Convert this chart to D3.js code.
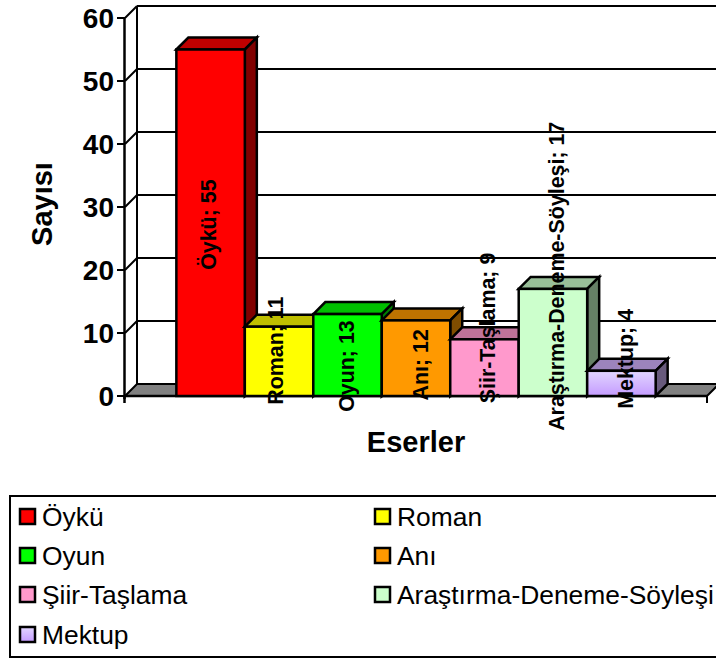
<!DOCTYPE html>
<html><head><meta charset="utf-8">
<script src="https://cdn.jsdelivr.net/npm/d3@7"></script>
<style>html,body{margin:0;padding:0;background:#fff}svg{display:block}text{font-family:"Liberation Sans",Arial,sans-serif;fill:#000}</style>
</head><body><svg id="c" width="716" height="659"></svg>
<script>
const categories = ["Öykü","Roman","Oyun","Anı","Şiir-Taşlama","Araştırma-Deneme-Söyleşi","Mektup"];
const values = [55,11,13,12,9,17,4];
const colors = ["#ff0000","#ffff00","#00ff00","#ff9900","#ff99cc","#ccffcc","url(#mk)"];
const topColors = ["#bf0000","#bfbf00","#00bf00","#bf7300","#bf7399","#99bf99","#9c84bc"];
const sideColors = ["#800000","#808000","#008000","#804d00","#804d66","#668066","#685a7c"];
const labelCenters = [27.2,7.2,4.75,4.95,10.8,19,5.9];
const ticks = [0,10,20,30,40,50,60];

const svg = d3.select("#c");
const defs = svg.append("defs");
const g = defs.append("linearGradient").attr("id","mk").attr("x1",0).attr("y1",0).attr("x2",0).attr("y2",1);
g.append("stop").attr("offset",0).attr("stop-color","#e2d6ff");
g.append("stop").attr("offset",1).attr("stop-color","#c49bff");

const x0=125,x1=707,y0=396,y1=18,d=12;
const labelNudge = [-3,-5,-2,3,2,3,3];
const x = d3.scaleBand().domain(categories).range([x0,x1]).paddingInner(0).paddingOuter(0.75);
const y = d3.scaleLinear().domain([0,60]).range([y0,y1]);
const line=(a,b,c,e,w=2)=>svg.append("line").attr("x1",a).attr("y1",b).attr("x2",c).attr("y2",e).attr("stroke","#000").attr("stroke-width",w);
const poly=(p,f,w=2.5)=>svg.append("polygon").attr("points",p.map(q=>q.join(",")).join(" ")).attr("fill",f).attr("stroke","#000").attr("stroke-width",w).attr("stroke-linejoin","miter");

// back wall gridlines
ticks.forEach(t=>{
  if(t>0) line(x0+d,y(t)-d,725,y(t)-d);
  if(t>0) line(x0,y(t),x0+d,y(t)-d);
});
line(x0+d,y(60)-d,x0+d,y0-d);
// floor
poly([[x0,y0],[x0+d,y0-d],[x1+d,y0-d],[x1,y0]],"#808080",2);
// axes
line(x0-0.5,y(60),x0-0.5,y0+3,2.5);
ticks.forEach(t=>line(x0-8,y(t),x0,y(t),2));
line(x0,y0,x1,y0,2.5);
line(x1,y0,x1,y0+7,2);
line(x0-0.5,y0,x0-0.5,y0+7,2.5);

// bars
categories.forEach((c,i)=>{
  const l=x(c),r=l+x.bandwidth(),t=y(values[i]);
  poly([[l,t],[l+d,t-d],[r+d,t-d],[r,t]],topColors[i]);
  poly([[r,t],[r+d,t-d],[r+d,y0-d],[r,y0]],sideColors[i]);
  svg.append("rect").attr("x",l).attr("y",t).attr("width",x.bandwidth()).attr("height",y0-t).attr("fill",colors[i]).attr("stroke","#000").attr("stroke-width",2.5);
});
// tick labels
ticks.forEach(t=>svg.append("text").attr("x",x0-11).attr("y",y(t)+10).attr("text-anchor","end").attr("font-size",28).attr("font-weight","bold").text(t));
// data labels
categories.forEach((c,i)=>{
  const cx=x(c)+x.bandwidth()/2+1+labelNudge[i], cy=y(labelCenters[i]);
  svg.append("text").attr("transform",`translate(${cx},${cy}) rotate(-90)`).attr("text-anchor","middle").attr("dy","0.35em").attr("font-size",21.4).attr("font-weight","bold").text(`${c}; ${values[i]}`);
});
// axis titles
svg.append("text").attr("transform","translate(52,204) rotate(-90)").attr("text-anchor","middle").attr("font-size",29).attr("font-weight","bold").text("Sayısı");
svg.append("text").attr("x",416).attr("y",452).attr("text-anchor","middle").attr("font-size",29).attr("font-weight","bold").text("Eserler");
// legend
svg.append("rect").attr("x",10).attr("y",496).attr("width",720).attr("height",161).attr("fill","#fff").attr("stroke","#000").attr("stroke-width",2);
categories.forEach((c,i)=>{
  const col=i%2,row=Math.floor(i/2);
  const sx=col?374:19, sy=[517,556,595,635][row];
  svg.append("rect").attr("x",sx+1).attr("y",sy-8).attr("width",15).attr("height",15).attr("fill",colors[i]).attr("stroke","#000").attr("stroke-width",2.5);
  svg.append("text").attr("x",sx+23).attr("y",sy+9).attr("font-size",26.4).text(c);
});
</script></body></html>
